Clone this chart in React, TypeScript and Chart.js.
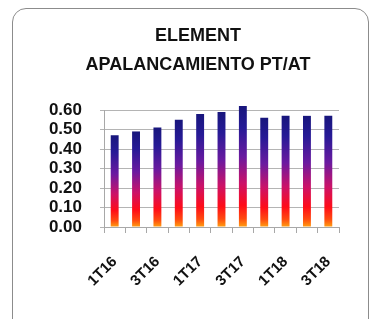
import React, { useEffect, useRef } from "react";
import { Chart, registerables } from "chart.js";

Chart.register(...registerables);

const categories = ["1T16", "2T16", "3T16", "4T16", "1T17", "2T17", "3T17", "4T17", "1T18", "2T18", "3T18"];
const values = [0.47, 0.49, 0.51, 0.55, 0.58, 0.59, 0.62, 0.56, 0.57, 0.57, 0.57];
const titleLines = ["ELEMENT", "APALANCAMIENTO PT/AT"];
const yTickValues = [0, 0.1, 0.2, 0.3, 0.4, 0.5, 0.6];

export default function App() {
  const ref = useRef<HTMLCanvasElement | null>(null);

  useEffect(() => {
    document.body.style.margin = "0";
    const canvas = ref.current;
    if (!canvas) return;

    const barColor = (c: any) => {
      const chart = c.chart;
      const ys = chart.scales && chart.scales.y;
      if (!ys || !chart.chartArea || typeof c.raw !== "number") return "#3a1a9a";
      const top = ys.getPixelForValue(c.raw);
      const bot = ys.getPixelForValue(0);
      const g = chart.ctx.createLinearGradient(0, top, 0, bot);
      g.addColorStop(0, "#18167c");
      g.addColorStop(0.18, "#261a96");
      g.addColorStop(0.42, "#6a1aa0");
      g.addColorStop(0.64, "#cc1268");
      g.addColorStop(0.82, "#ff0c18");
      g.addColorStop(0.93, "#ff4a10");
      g.addColorStop(1, "#ffa010");
      return g;
    };

    const chart = new Chart(canvas, {
      type: "bar",
      data: {
        labels: categories,
        datasets: [
          {
            data: values,
            backgroundColor: barColor,
            barPercentage: 0.37,
            categoryPercentage: 1,
            clip: false as any,
          },
        ],
      },
      options: {
        animation: false,
        responsive: false,
        maintainAspectRatio: false,
        layout: { padding: { left: 26, right: 0, top: 0, bottom: 0 } },
        plugins: {
          legend: { display: false },
          tooltip: { enabled: false },
          title: {
            display: true,
            text: titleLines,
            color: "#111",
            font: { family: "'Liberation Sans', Arial, sans-serif", size: 18, weight: "bold", lineHeight: "29px" as any },
            padding: { top: 22, bottom: 30 },
          },
        },
        scales: {
          x: {
            offset: true,
            grid: {
              display: true,
              drawOnChartArea: false,
              offset: true,
              tickLength: 6,
              color: "#a8a8a8",
            },
            border: { display: true, color: "#a8a8a8" },
            ticks: {
              autoSkip: false,
              minRotation: 45,
              maxRotation: 45,
              padding: 20,
              color: "#111",
              font: { family: "'Liberation Sans', Arial, sans-serif", size: 15, weight: "bold" },
              callback: (_v: any, i: number) => (i % 2 === 0 ? categories[i] : ""),
            },
            afterFit: (s: any) => {
              s.height = 92;
            },
          },
          y: {
            min: 0,
            max: 0.6,
            afterBuildTicks: (s: any) => {
              s.ticks = yTickValues.map((v) => ({ value: v }));
            },
            grid: { color: "#b4b4b4", tickLength: 4 },
            border: { display: true, color: "#a8a8a8" },
            ticks: {
              autoSkip: false,
              padding: 18,
              color: "#111",
              font: { family: "'Liberation Sans', Arial, sans-serif", size: 17, weight: "bold" },
              callback: (v: any) => Number(v).toFixed(2),
            },
            afterFit: (s: any) => {
              s.width = 78;
            },
          },
          y2: {
            position: "right",
            display: true,
            grid: { display: false },
            border: { display: false },
            ticks: { display: false },
            afterFit: (s: any) => {
              s.width = 31;
            },
          },
        },
      },
    });
    return () => chart.destroy();
  }, []);

  return (
    <div style={{ position: "relative", width: 370, height: 319, background: "#fff", overflow: "hidden" }}>
      <div
        style={{
          position: "absolute",
          left: 12,
          top: 8,
          width: 357,
          height: 330,
          border: "1px solid #8c8c8c",
          borderRadius: 14,
          boxSizing: "border-box",
        }}
      />
      <canvas ref={ref} width={370} height={319} style={{ position: "absolute", left: 0, top: 0 }} />
    </div>
  );
}
